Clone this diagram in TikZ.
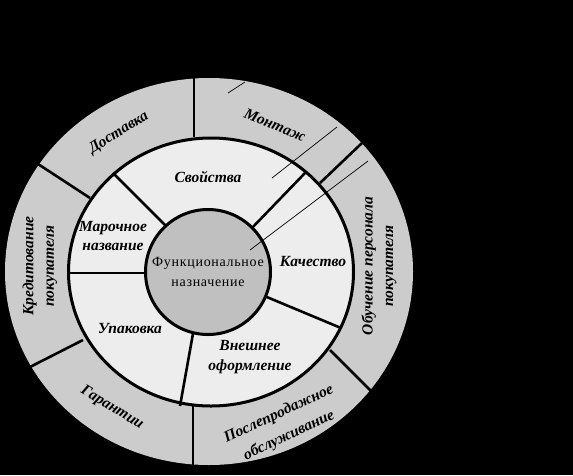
\documentclass[tikz,border=0pt]{standalone}
\usepackage{fontspec}
\setmainfont{Liberation Serif}
\definecolor{outerc}{gray}{0.80}
\definecolor{midc}{gray}{0.93}
\definecolor{innerc}{HTML}{C0C0C0}
\begin{document}
\begin{tikzpicture}[x=1pt,y=-1pt,
  lab/.style={font=\fontsize{15.5}{19.5}\selectfont\bfseries\itshape, align=center, inner sep=0pt},
  ctr/.style={font=\fontsize{14}{20}\selectfont\addfontfeatures{LetterSpace=5}, align=center, inner sep=0pt},
  div/.style={line width=2.6pt},
  thinline/.style={line width=0.7pt}]
\useasboundingbox (0,0) rectangle (573,475);
\fill[black] (0,0) rectangle (573,475);
% rings
\fill[outerc] (209,271.5) ellipse [x radius=204pt, y radius=193.5pt];
\filldraw[fill=midc, line width=3pt] (211,272) ellipse [x radius=142.5pt, y radius=134pt];
% outer ring dividers
\coordinate (o1a) at (194,137); \coordinate (o1b) at (194,76);
\coordinate (o2a) at (90,198);  \coordinate (o2b) at (38,164);
\coordinate (o3a) at (320,183); \coordinate (o3b) at (362,143);
\coordinate (o4a) at (83,340);  \coordinate (o4b) at (28,368);
\coordinate (o5a) at (193,406); \coordinate (o5b) at (193,467);
\coordinate (o6a) at (330,350); \coordinate (o6b) at (374,394);
\draw[div] (o1a) -- (o1b);
\draw[div] (o2a) -- (o2b);
\draw[div] (o3a) -- (o3b);
\draw[div] (o4a) -- (o4b);
\draw[div] (o5a) -- (o5b);
\draw[div] (o6a) -- (o6b);
% middle ring dividers
\coordinate (m1a) at (170,230); \coordinate (m1b) at (113,173);
\coordinate (m2a) at (250,230); \coordinate (m2b) at (305,173);
\coordinate (m3a) at (150,273); \coordinate (m3b) at (68,273);
\coordinate (m4a) at (194,328); \coordinate (m4b) at (180,406);
\coordinate (m5a) at (262,295); \coordinate (m5b) at (341,328);
\draw[div] (m1a) -- (m1b);
\draw[div] (m2a) -- (m2b);
\draw[div] (m3a) -- (m3b);
\draw[div] (m4a) -- (m4b);
\draw[div] (m5a) -- (m5b);
% inner circle
\filldraw[fill=innerc, line width=3pt] (208,272) circle [radius=62.5pt];
% thin lines
\coordinate (t1a) at (250,250); \coordinate (t1b) at (368,161);
\coordinate (t2a) at (272,178); \coordinate (t2b) at (337,127);
\coordinate (t3a) at (228,93);  \coordinate (t3b) at (245,82);
\draw[thinline] (t1a) -- (t1b);
\draw[thinline] (t2a) -- (t2b);
\draw[thinline] (t3a) -- (t3b);
% labels outer ring
\node[lab, rotate=32] (dost) at (119,133) {Доставка};
\node[lab, rotate=-22] (mont) at (275,125) {Монтаж};
\node[lab, rotate=90] (kred) at (40,266) {Кредитование\\[1pt]покупателя};
\node[lab, rotate=90] (obuch) at (379,266) {Обучение персонала\\[1pt]покупателя};
\node[lab, rotate=-31] (gar) at (112,408) {Гарантии};
\node[lab, rotate=25] (posl) at (284,425) {Послепродажное\\[4.5pt]обслуживание};
% labels middle ring
\node[lab] (svoj) at (208,177) {Свойства};
\node[lab] (mar) at (113,236) {Марочное\\название};
\node[lab] (kach) at (313,261) {Качество};
\node[lab] (upak) at (130,328) {Упаковка};
\node[lab] (vnesh) at (250,357) {Внешнее\\оформление};
% centre
\node[ctr] (func) at (208,272) {Функциональное\\назначение};
\end{tikzpicture}
\end{document}
